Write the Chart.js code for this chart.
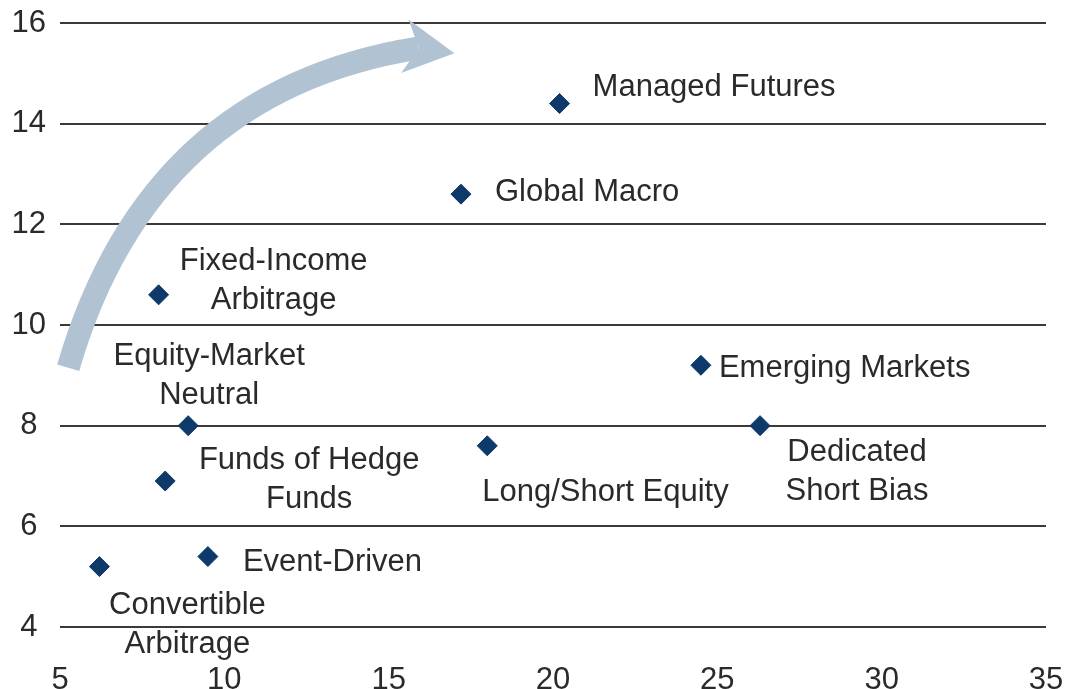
<!DOCTYPE html>
<html>
<head>
<meta charset="utf-8">
<script src="https://cdn.jsdelivr.net/npm/chart.js@4"></script>
<style>
  html, body { margin: 0; padding: 0; background: #fff; }
  #wrap { width: 1069px; height: 689px; }
</style>
</head>
<body>
<div id="wrap"><canvas id="chart"></canvas></div>
<script>
// strategies, x values, y values
const strategies = [
  "Managed Futures", "Global Macro", "Fixed-Income Arbitrage", "Emerging Markets",
  "Equity-Market Neutral", "Dedicated Short Bias", "Long/Short Equity",
  "Funds of Hedge Funds", "Event-Driven", "Convertible Arbitrage"
];
const xValues = [20.2, 17.2, 8.0, 24.5, 8.9, 26.3, 18.0, 8.2, 9.5, 6.2];
const yValues = [14.4, 12.6, 10.6, 9.2, 8.0, 8.0, 7.6, 6.9, 5.4, 5.2];
const xTicks = [5, 10, 15, 20, 25, 30, 35];
const yTicks = [4, 6, 8, 10, 12, 14, 16];

// how each name is written next to its point (lines, anchor offset in px, alignment)
const labelLayout = [
  { lines: ["Managed Futures"], dx: 33, dy: -16, align: "left" },
  { lines: ["Global Macro"], dx: 34, dy: -2, align: "left" },
  { lines: ["Fixed-Income", "Arbitrage"], dx: 115, dy: -33, align: "center" },
  { lines: ["Emerging Markets"], dx: 18, dy: 3, align: "left" },
  { lines: ["Equity-Market", "Neutral"], dx: 21, dy: -69, align: "center" },
  { lines: ["Dedicated", "Short Bias"], dx: 97, dy: 27, align: "center" },
  { lines: ["Long/Short Equity"], dx: -5, dy: 47, align: "left" },
  { lines: ["Funds of Hedge", "Funds"], dx: 144, dy: -21, align: "center" },
  { lines: ["Event-Driven"], dx: 35, dy: 6, align: "left" },
  { lines: ["Convertible", "Arbitrage"], dx: 88, dy: 39, align: "center" }
];

// curved arrow in data units: start, control, end of shaft, then tip
const arrowPath = [[5.25, 9.15], [7.7, 14.65], [15.9, 15.5], [17.0, 15.4]];

const FONT = "'Liberation Sans', Arial, sans-serif";
const TEXT = "#2a2a2a";

const arrowPlugin = {
  id: "arrow",
  beforeDatasetsDraw(chart) {
    const { ctx, scales: { x, y } } = chart;
    const p = arrowPath.map(([a, b]) => [x.getPixelForValue(a), y.getPixelForValue(b)]);
    ctx.save();
    ctx.strokeStyle = "#b1c3d2";
    ctx.fillStyle = "#b1c3d2";
    ctx.lineWidth = 23;
    ctx.beginPath();
    ctx.moveTo(p[0][0], p[0][1]);
    ctx.quadraticCurveTo(p[1][0], p[1][1], p[2][0], p[2][1]);
    ctx.stroke();
    // head
    const tip = p[3];
    const ang = Math.atan2(tip[1] - p[2][1], tip[0] - p[2][0]);
    const back = 50, half = 27;
    const bx = tip[0] - back * Math.cos(ang), by = tip[1] - back * Math.sin(ang);
    ctx.beginPath();
    ctx.moveTo(tip[0], tip[1]);
    ctx.lineTo(bx + half * Math.sin(ang), by - half * Math.cos(ang));
    ctx.lineTo(bx + 14 * Math.cos(ang), by + 14 * Math.sin(ang));
    ctx.lineTo(bx - half * Math.sin(ang), by + half * Math.cos(ang));
    ctx.closePath();
    ctx.fill();
    ctx.restore();
  }
};

const labelPlugin = {
  id: "pointLabels",
  afterDatasetsDraw(chart) {
    const { ctx } = chart;
    const meta = chart.getDatasetMeta(0);
    ctx.save();
    ctx.font = "31px " + FONT;
    ctx.fillStyle = TEXT;
    ctx.textBaseline = "middle";
    meta.data.forEach((pt, i) => {
      const l = labelLayout[i];
      ctx.textAlign = l.align;
      l.lines.forEach((line, k) => {
        ctx.fillText(line, pt.x + l.dx, pt.y + l.dy + k * 39);
      });
    });
    ctx.restore();
  }
};

new Chart(document.getElementById("chart"), {
  type: "scatter",
  data: {
    datasets: [{
      label: "Strategies",
      data: xValues.map((v, i) => ({ x: v, y: yValues[i] })),
      pointStyle: "rectRot",
      pointRadius: 10,
      pointHoverRadius: 10,
      backgroundColor: "#0d3a6b",
      borderColor: "#0d3a6b",
      borderWidth: 1
    }]
  },
  options: {
    responsive: true,
    maintainAspectRatio: false,
    animation: false,
    layout: { padding: { top: 23, right: 23, left: 0, bottom: 0 } },
    plugins: { legend: { display: false }, tooltip: { enabled: false } },
    scales: {
      x: {
        type: "linear",
        min: 5, max: 35,
        afterBuildTicks: s => { s.ticks = xTicks.map(v => ({ value: v })); },
        afterFit: s => { s.height = 62; s.paddingLeft = 0; s.paddingRight = 0; },
        grid: { display: false },
        border: { display: false },
        ticks: { color: TEXT, font: { family: FONT, size: 31 }, padding: 27, maxRotation: 0 }
      },
      y: {
        min: 4, max: 16,
        afterBuildTicks: s => { s.ticks = yTicks.map(v => ({ value: v })); },
        afterFit: s => { s.width = 60; s.paddingTop = 0; s.paddingBottom = 0; },
        grid: { color: "#3a3a3a", lineWidth: 2, drawTicks: false },
        border: { display: false },
        ticks: { color: TEXT, font: { family: FONT, size: 31 }, padding: 14, crossAlign: "center" }
      }
    }
  },
  plugins: [arrowPlugin, labelPlugin]
});
</script>
</body>
</html>
